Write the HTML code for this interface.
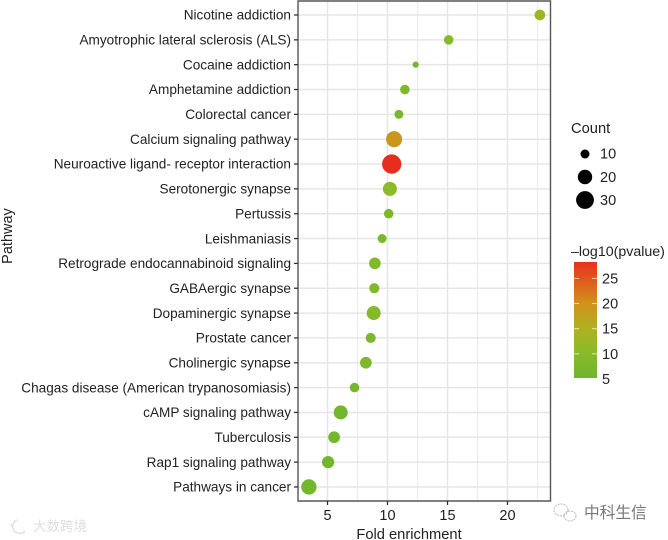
<!DOCTYPE html>
<html lang="en">
<head>
<meta charset="utf-8">
<title>Pathway enrichment dot plot</title>
<style>
html,body{margin:0;padding:0;background:#fff;width:668px;height:540px;overflow:hidden}
svg{display:block;font-family:"Liberation Sans","Noto Sans CJK SC",sans-serif}
</style>
</head>
<body>
<svg id="chart" width="668" height="540" viewBox="0 0 668 540" xmlns="http://www.w3.org/2000/svg">
  <defs>
    <linearGradient id="pvalue-gradient" x1="0" y1="1" x2="0" y2="0">
      <stop offset="0" stop-color="#6fb52e"/>
      <stop offset="0.26" stop-color="#8fbb28"/>
      <stop offset="0.45" stop-color="#b4ae20"/>
      <stop offset="0.65" stop-color="#d2901c"/>
      <stop offset="0.85" stop-color="#e0581e"/>
      <stop offset="1" stop-color="#e8301e"/>
    </linearGradient>
  </defs>
  <g id="grid"></g>
  <g id="points"></g>
  <g id="axes"></g>
  <text x="409" y="539" text-anchor="middle" font-size="14.7" fill="#222">Fold enrichment</text>
  <text transform="translate(12,236) rotate(-90)" text-anchor="middle" font-size="14.5" fill="#222">Pathway</text>
  <g>
    <text x="571" y="133" font-size="14.7" fill="#222">Count</text>
    <circle cx="585" cy="154" r="4.5" fill="#000"/>
    <text x="600" y="158.5" font-size="14.5" fill="#222">10</text>
    <circle cx="585" cy="177" r="7.2" fill="#000"/>
    <text x="600" y="182" font-size="14.5" fill="#222">20</text>
    <circle cx="585" cy="200" r="8.9" fill="#000"/>
    <text x="600" y="205" font-size="14.5" fill="#222">30</text>
  </g>
  <g>
    <text x="571" y="256" font-size="14.2" fill="#222">–log10(pvalue)</text>
    <rect x="574" y="262" width="23" height="116" fill="url(#pvalue-gradient)"/>
    <g id="colorbar-ticks"></g>
  </g>
  <g opacity="0.55">
    <path d="M17 520a7 7 0 1 0 8 11M11 524l3 6" fill="none" stroke="#c8c8c8" stroke-width="1.5"/>
    <text x="33" y="531" font-size="13.5" fill="#c4c4c4">大数跨境</text>
  </g>
  <g>
    <ellipse cx="561" cy="510" rx="7" ry="6" fill="none" stroke="#bbb" stroke-width="1" stroke-dasharray="2 1"/>
    <ellipse cx="570" cy="516" rx="6" ry="5" fill="none" stroke="#bbb" stroke-width="1" stroke-dasharray="2 1"/>
    <text x="584" y="518" font-size="15.7" fill="#777">中科生信</text>
  </g>
</svg>
<script>
const categories = ["Nicotine addiction","Amyotrophic lateral sclerosis (ALS)","Cocaine addiction","Amphetamine addiction","Colorectal cancer","Calcium signaling pathway","Neuroactive ligand- receptor interaction","Serotonergic synapse","Pertussis","Leishmaniasis","Retrograde endocannabinoid signaling","GABAergic synapse","Dopaminergic synapse","Prostate cancer","Cholinergic synapse","Chagas disease (American trypanosomiasis)","cAMP signaling pathway","Tuberculosis","Rap1 signaling pathway","Pathways in cancer"];
const foldEnrichment = [22.7,15.1,12.35,11.45,10.95,10.55,10.35,10.2,10.1,9.55,8.95,8.9,8.85,8.6,8.2,7.25,6.1,5.55,5.05,3.45];
const counts = [13,11,6,11,10,25,34,20,11,10,15,12,20,12,15,11,20,15,16,23];
const negLogP = [12.5,9.5,6,8,7,19,27.5,10.5,8,7,8.5,8,9,7.5,8,6.5,6,6,5.5,6];
const xTickValues = [5,10,15,20];
const xMinorValues = [7.5,12.5,17.5,22.5];
const colorbarTickValues = [5,10,15,20,25];

const svgNS = "http://www.w3.org/2000/svg";
const plot = {left:298, right:550.5, top:1, bottom:501};
function xScale(v){ return 327.5 + (v - 5) * 12; }
function yScale(i){ return 15 + i * 24.84; }
function rScale(c){ return 4.5 + 1.93 * (Math.sqrt(c) - Math.sqrt(10)); }
function barScale(v){ return 379 - (v - 5) * 5.03; }
function colorScale(v){
  const anchors = [[5,[111,181,46]],[11,[143,187,40]],[15,[180,174,32]],[20,[210,144,28]],[25,[224,88,30]],[28,[232,36,30]]];
  for (let i = 0; i < anchors.length - 1; i++) {
    const a = anchors[i], b = anchors[i + 1];
    if (v <= b[0]) {
      const t = Math.max(0, (v - a[0]) / (b[0] - a[0]));
      return "rgb(" + a[1].map((c, k) => Math.round(c + (b[1][k] - c) * t)).join(",") + ")";
    }
  }
  return "rgb(232,36,30)";
}
function make(tag, attrs, parent){
  const el = document.createElementNS(svgNS, tag);
  for (const k in attrs) el.setAttribute(k, attrs[k]);
  parent.appendChild(el);
  return el;
}
const grid = document.getElementById("grid");
const points = document.getElementById("points");
const axes = document.getElementById("axes");
const cbTicks = document.getElementById("colorbar-ticks");

xMinorValues.forEach(v => {
  const l = make("line", {x1:xScale(v), x2:xScale(v), y1:plot.top, y2:plot.bottom, stroke:"#ececec", "stroke-width":1.2}, grid);
  
  
});
xTickValues.forEach(v => {
  const l = make("line", {x1:xScale(v), x2:xScale(v), y1:plot.top, y2:plot.bottom, stroke:"#e6e6e6", "stroke-width":1.5}, grid);
  
  
});
categories.forEach((c, i) => {
  const l = make("line", {x1:plot.left, x2:plot.right, y1:yScale(i), y2:yScale(i), stroke:"#e6e6e6", "stroke-width":1.5}, grid);
  
  
});
categories.forEach((c, i) => {
  const p = make("circle", {cx:xScale(foldEnrichment[i]), cy:yScale(i), r:rScale(counts[i]), fill:colorScale(negLogP[i])}, points);
  
  
});
const frame = make("path", {d:"M"+plot.left+" "+plot.top+"H"+plot.right+"V"+plot.bottom+"H"+plot.left+"Z", fill:"none", stroke:"#555", "stroke-width":1.4}, axes);


categories.forEach((c, i) => {
  const t = make("line", {x1:plot.left-4, x2:plot.left, y1:yScale(i), y2:yScale(i), stroke:"#333", "stroke-width":1.3}, axes);
  
  
  const lbl = make("text", {x:291, y:yScale(i)+4.7, "text-anchor":"end", "font-size":13.6, fill:"#222"}, axes);
  
  
  lbl.textContent = c;
});
xTickValues.forEach(v => {
  const t = make("line", {x1:xScale(v), x2:xScale(v), y1:plot.bottom, y2:plot.bottom+4, stroke:"#333", "stroke-width":1.3}, axes);
  
  
  const lbl = make("text", {x:xScale(v), y:520, "text-anchor":"middle", "font-size":14.5, fill:"#222"}, axes);
  
  
  lbl.textContent = v;
});
colorbarTickValues.forEach(v => {
  if (v > 5) {
    const a = make("line", {x1:574, x2:579, y1:barScale(v), y2:barScale(v), stroke:"#fff", "stroke-opacity":0.7, "stroke-width":1}, cbTicks);
    
    
    const b = make("line", {x1:592, x2:597, y1:barScale(v), y2:barScale(v), stroke:"#fff", "stroke-opacity":0.7, "stroke-width":1}, cbTicks);
    
    
  }
  const lbl = make("text", {x:602, y:barScale(v)+5, "font-size":14.5, fill:"#222"}, cbTicks);
  
  
  lbl.textContent = v;
});
</script>
</body>
</html>
